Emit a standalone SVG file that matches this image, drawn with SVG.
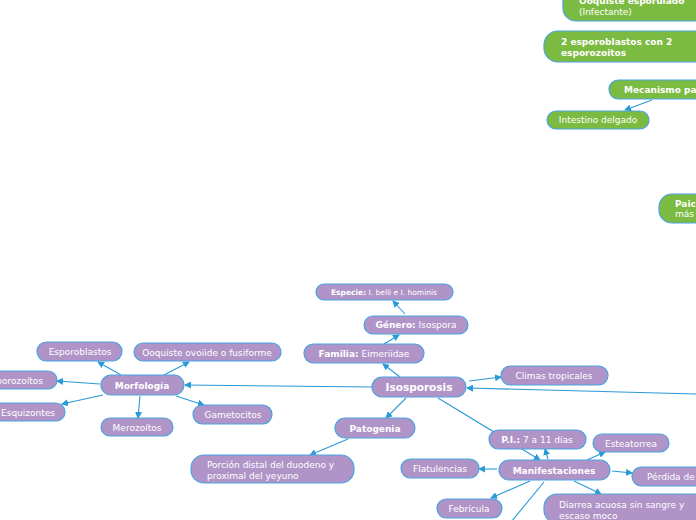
<svg xmlns="http://www.w3.org/2000/svg" width="696" height="520" viewBox="0 0 696 520">
<defs>
<marker id="arr" markerWidth="7" markerHeight="7" refX="6" refY="3.5" orient="auto" markerUnits="userSpaceOnUse">
<path d="M0,0 L7,3.5 L0,7 Z" fill="#2a9ad6"/>
</marker>
</defs>
<style>
.p{fill:#b094c8;stroke:#4aa3df;stroke-width:1.2}
.g{fill:#7cbb41;stroke:#4aa3df;stroke-width:1.2}
text{font-family:"DejaVu Sans",Verdana,sans-serif;font-size:9px;fill:#ffffff}
.b{font-weight:bold}
.c{text-anchor:middle}
.e{stroke:#2a9ad6;stroke-width:1.1;fill:none;marker-end:url(#arr)}
.n{stroke:#2a9ad6;stroke-width:1.1;fill:none}
</style>
<rect width="696" height="520" fill="#ffffff"/>
<g id="connectors">
<line class="e" x1="652" y1="100" x2="625" y2="110"/>
<line class="e" x1="400" y1="377" x2="383" y2="364"/>
<line class="e" x1="384" y1="344" x2="399" y2="335"/>
<line class="e" x1="405" y1="314" x2="393" y2="301"/>
<line class="e" x1="469" y1="381" x2="501" y2="377"/>
<line class="e" x1="696" y1="394" x2="467" y2="388"/>
<line class="e" x1="372" y1="387" x2="185" y2="385"/>
<line class="e" x1="121" y1="375" x2="98" y2="362"/>
<line class="e" x1="164" y1="375" x2="189" y2="362"/>
<line class="e" x1="100" y1="384" x2="57" y2="381"/>
<line class="e" x1="103" y1="395" x2="62" y2="404"/>
<line class="e" x1="140" y1="396" x2="138" y2="418"/>
<line class="e" x1="176" y1="396" x2="204" y2="405"/>
<line class="e" x1="406" y1="398" x2="386" y2="418"/>
<line class="e" x1="348" y1="439" x2="310" y2="455"/>
<line class="e" x1="438" y1="398" x2="540" y2="460"/>
<line class="e" x1="548" y1="459" x2="545" y2="449"/>
<line class="e" x1="587" y1="460" x2="605" y2="452"/>
<line class="e" x1="497" y1="469" x2="479" y2="469"/>
<line class="e" x1="612" y1="471" x2="632" y2="473"/>
<line class="e" x1="530" y1="481" x2="491" y2="498"/>
<line class="e" x1="574" y1="481" x2="601" y2="494"/>
<line class="n" x1="544" y1="482" x2="511" y2="522"/>
</g>
<g id="n-ooquiste-esporulado"><rect class="g" x="563" y="-12" width="160" height="33" rx="13"/><text class="b" x="579" y="4">Ooquiste esporulado</text><text x="579" y="15">(Infectante)</text></g>
<g id="n-esporoblastos-2"><rect class="g" x="544" y="31" width="170" height="31" rx="14"/><text class="b" x="561" y="45">2 esporoblastos con 2</text><text class="b" x="561" y="56">esporozoitos</text></g>
<g id="n-mecanismo"><rect class="g" x="609" y="80" width="120" height="19" rx="9.5"/><text class="b" x="624" y="93">Mecanismo pa</text></g>
<g id="n-intestino"><rect class="g" x="547" y="111" width="102" height="18" rx="9"/><text class="c" x="598" y="123">Intestino delgado</text></g>
<g id="n-paici"><rect class="g" x="659" y="194" width="80" height="29" rx="13"/><text class="b" x="675" y="207">Paici</text><text x="675" y="217">más</text></g>
<g id="n-especie"><rect class="p" x="316" y="284" width="137" height="16" rx="8"/><text class="c" x="384" y="295" style="font-size:7.5px"><tspan class="b">Especie:</tspan> I. belli e I. hominis</text></g>
<g id="n-genero"><rect class="p" x="364" y="316" width="104" height="18" rx="9"/><text class="c" x="416" y="328"><tspan class="b">Género:</tspan> Isospora</text></g>
<g id="n-familia"><rect class="p" x="304" y="344" width="120" height="19" rx="9.5"/><text class="c" x="364" y="357"><tspan class="b">Familia:</tspan> Eimeriidae</text></g>
<g id="n-isosporosis"><rect class="p" x="372" y="377" width="94" height="20" rx="10"/><text class="b c" x="419" y="391" style="font-size:10.5px">Isosporosis</text></g>
<g id="n-climas"><rect class="p" x="501" y="366" width="107" height="19" rx="9.5"/><text class="c" x="554" y="379">Climas tropicales</text></g>
<g id="n-morfologia"><rect class="p" x="101" y="375" width="83" height="20" rx="10"/><text class="b c" x="142" y="389">Morfología</text></g>
<g id="n-esporoblastos"><rect class="p" x="37" y="342" width="85" height="19" rx="9.5"/><text class="c" x="80" y="355">Esporoblastos</text></g>
<g id="n-ooquiste-ovoide"><rect class="p" x="134" y="343" width="147" height="18" rx="9"/><text class="c" x="207" y="356">Ooquiste ovoiide o fusiforme</text></g>
<g id="n-esporozoitos"><rect class="p" x="-30" y="371" width="87" height="18" rx="9"/><text x="43" y="384" style="text-anchor:end">Esporozoítos</text></g>
<g id="n-esquizontes"><rect class="p" x="-25" y="403" width="90" height="18" rx="9"/><text x="28" y="416" class="c">Esquizontes</text></g>
<g id="n-merozoitos"><rect class="p" x="101" y="418" width="72" height="18" rx="9"/><text class="c" x="137" y="431">Merozoítos</text></g>
<g id="n-gametocitos"><rect class="p" x="193" y="405" width="79" height="19" rx="9.5"/><text class="c" x="233" y="418">Gametocitos</text></g>
<g id="n-patogenia"><rect class="p" x="335" y="418" width="80" height="20" rx="10"/><text class="b c" x="375" y="432">Patogenia</text></g>
<g id="n-porcion"><rect class="p" x="191" y="455" width="163" height="28" rx="13"/><text x="207" y="468">Porción distal del duodeno y</text><text x="207" y="479">proximal del yeyuno</text></g>
<g id="n-pi"><rect class="p" x="489" y="430" width="97" height="19" rx="9.5"/><text class="c" x="537" y="443"><tspan class="b">P.I.:</tspan> 7 a 11 días</text></g>
<g id="n-esteatorrea"><rect class="p" x="593" y="434" width="76" height="18" rx="9"/><text class="c" x="631" y="447">Esteatorrea</text></g>
<g id="n-flatulencias"><rect class="p" x="401" y="459" width="78" height="19" rx="9.5"/><text class="c" x="440" y="472">Flatulencias</text></g>
<g id="n-manifestaciones"><rect class="p" x="499" y="460" width="111" height="20" rx="10"/><text class="b c" x="554" y="474">Manifestaciones</text></g>
<g id="n-perdida"><rect class="p" x="632" y="467" width="90" height="19" rx="9.5"/><text x="647" y="480">Pérdida de p</text></g>
<g id="n-febricula"><rect class="p" x="437" y="499" width="65" height="19" rx="9.5"/><text class="c" x="469" y="512">Febrícula</text></g>
<g id="n-diarrea"><rect class="p" x="544" y="494" width="170" height="29" rx="13"/><text x="559" y="508">Diarrea acuosa sin sangre y</text><text x="559" y="519">escaso moco</text></g>
</svg>
